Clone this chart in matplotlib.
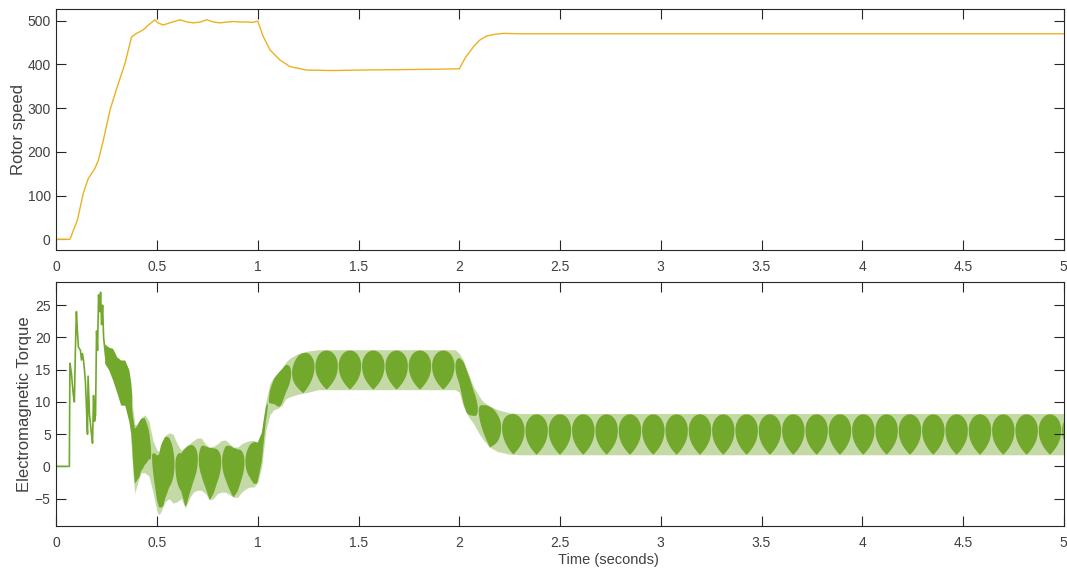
import numpy as np
import matplotlib
matplotlib.use("Agg")
import matplotlib.pyplot as plt

plt.rcParams['font.family'] = ['Liberation Sans', 'DejaVu Sans']

# ---------------- data ----------------
# Rotor speed
t_speed = [0, 0.068, 0.105, 0.134, 0.159, 0.192, 0.209, 0.234, 0.267, 0.30, 0.341,
           0.374, 0.399, 0.432, 0.457, 0.49, 0.505, 0.531, 0.57, 0.614, 0.65, 0.681,
           0.715, 0.747, 0.78, 0.813, 0.85, 0.88, 0.915, 0.946, 0.975, 1.0, 1.028,
           1.061, 1.11, 1.16, 1.243, 1.375, 1.5, 1.7, 1.9, 2.0, 2.03, 2.07, 2.1,
           2.136, 2.18, 2.22, 2.3, 3.0, 4.0, 5.0]
speed = [0, 0, 44, 105, 139, 162, 181, 227, 296, 345, 402,
         463, 471, 479, 490, 502, 495, 490, 496, 502, 497, 495,
         497, 502, 497, 495, 497, 498, 497, 497, 496, 499, 463,
         433, 410, 395, 387, 386, 387, 388, 389, 390, 415, 440, 455,
         465, 469, 471, 470, 470, 470, 470]

# Electromagnetic torque: early start-up trace
t_early = [0, 0.065, 0.066, 0.068, 0.075, 0.085, 0.09, 0.095, 0.10, 0.105, 0.11,
           0.12, 0.125, 0.13, 0.135, 0.14, 0.145, 0.15, 0.155, 0.158, 0.165, 0.17,
           0.175, 0.18, 0.185, 0.19, 0.195, 0.20, 0.205, 0.21, 0.215, 0.22, 0.225,
           0.23, 0.235, 0.24, 0.245]
T_early = [0, 0, 6, 16, 14.5, 11, 10, 18, 24, 21, 18.5,
           18, 16.5, 17.5, 16.5, 15, 13, 9, 5, 14, 8, 6.5,
           5, 3.6, 11, 7, 8, 21, 18, 26.6, 24, 27, 22,
           25, 20, 18.5, 17]

# Electromagnetic torque: ripple band envelopes
t_env = [0.24, 0.26, 0.28, 0.30, 0.32, 0.34, 0.36, 0.37, 0.38, 0.39, 0.40, 0.42,
         0.44, 0.46, 0.48, 0.50, 0.51, 0.52, 0.54, 0.56, 0.58, 0.60, 0.62, 0.64,
         0.66, 0.68, 0.70, 0.72, 0.74, 0.76, 0.78, 0.80, 0.82, 0.84, 0.86, 0.88,
         0.90, 0.92, 0.94, 0.96, 0.98, 1.00, 1.02, 1.04, 1.06, 1.08, 1.10, 1.12,
         1.14, 1.16, 1.20, 1.25, 1.30, 1.98, 2.00, 2.02, 2.05, 2.07, 2.10, 2.12,
         2.15, 2.19, 2.25, 2.30, 5.0]
T_up = [19, 18.5, 18.3, 17, 16.5, 16.5, 15, 13, 9, 6.5, 6.5, 7.5,
        8, 7, 4, 2.5, 2.3, 3.5, 4.8, 5.2, 5, 3.5, 2.5, 3,
        3.5, 4, 4.4, 4.4, 3.5, 3, 3.1, 3.5, 4, 4.1, 3.5, 3,
        3, 3.5, 3.8, 4, 4, 3.8, 5.5, 10, 12.8, 13.9, 14.5, 15.2,
        16.2, 16.8, 17.5, 17.9, 18.1, 18.1, 17.5, 16.5, 14, 12.4, 10.8, 10,
        9.4, 8.8, 8.3, 8.2, 8.2]
T_lo = [16, 15, 13.4, 11.5, 9.5, 9.5, 7, 5, -1, -4.2, -3, -1,
        -1, -1.5, -4, -7, -7.5, -7, -5.5, -5, -5.7, -5.5, -5, -6.5,
        -5, -4, -3.7, -3.7, -4.2, -5.2, -5, -4.2, -4, -4, -4.4, -4.8,
        -4.8, -4, -3.5, -3.2, -3.2, -2.5, 0, 5.6, 8, 8.8, 9, 9.5,
        10.5, 10.8, 11.2, 11.5, 11.9, 11.9, 11.5, 9.3, 7.5, 6.7, 5, 4.1,
        3, 2.3, 1.9, 1.8, 1.8]
dense_end = 0.375          # before this time the ripple band is solid
lobe_t0 = 1.226            # centre of one beat lobe (s)
lobe_period = 0.1158       # beat period (s)

x_ticks = [0, 0.5, 1, 1.5, 2, 2.5, 3, 3.5, 4, 4.5, 5]
x_ticklabels = ['0', '0.5', '1', '1.5', '2', '2.5', '3', '3.5', '4', '4.5', '5']
speed_ticks = [0, 100, 200, 300, 400, 500]
torque_ticks = [-5, 0, 5, 10, 15, 20, 25]

# ---------------- styling ----------------
c_speed = '#EDB120'
c_dark = '#72A82C'
c_light = '#C4DAA6'
c_axis = '#262626'
c_text = '#404040'

W, H = 1067, 573
fig = plt.figure(figsize=(W / 100, H / 100), dpi=100)

def px_axes(l, t, r, b):
    return fig.add_axes([l / W, 1 - b / H, (r - l) / W, (b - t) / H])

ax1 = px_axes(56.25, 9, 1063.75, 250)
ax2 = px_axes(56.25, 282, 1063.75, 525.7)

for ax in (ax1, ax2):
    ax.set_xlim(0, 5)
    ax.set_xticks(x_ticks)
    ax.set_xticklabels(x_ticklabels)
    ax.tick_params(direction='in', length=7.2, width=0.8, colors=c_axis,
                   labelcolor=c_text, labelsize=10, top=True, right=True)
    ax.tick_params(axis='x', pad=7.5)
    ax.tick_params(axis='y', pad=4)
    for s in ax.spines.values():
        s.set_color(c_axis)
        s.set_linewidth(0.8)

# top: rotor speed
ax1.plot(t_speed, speed, color=c_speed, lw=1.0)
ax1.set_ylim(-24.5, 526.7)
ax1.set_yticks(speed_ticks)

# bottom: torque
ax2.set_ylim(-9.2, 28.6)
ax2.set_yticks(torque_ticks)
ax2.plot(t_early, T_early, color=c_dark, lw=1.2)

tg = np.linspace(t_env[0], t_env[-1], 60000)
U = np.interp(tg, t_env, T_up)
L = np.interp(tg, t_env, T_lo)
dense = tg <= dense_end
ax2.fill_between(tg, L, U, where=dense, color=c_dark, lw=0)
ax2.fill_between(tg, L, U, where=~dense | (np.abs(tg - dense_end) < 1e-3),
                 color=c_light, lw=0)

# beat lobes (dark teardrops) inside the ripple band
k = np.round((tg - lobe_t0) / lobe_period)
r = np.abs(tg - (lobe_t0 + k * lobe_period)) / (0.96 * lobe_period / 2)
rr = np.clip(r, 0, 1)
head = 0.6
s_top = head + (0.98 - head) * np.sqrt(1 - rr ** 2)
s_bot = head - head * (1 - rr) ** 0.45
inside = (r <= 1) & (tg >= dense_end)
ax2.fill_between(tg, L + (U - L) * s_bot, L + (U - L) * s_top, where=inside,
                 color=c_dark, lw=0)

# labels
fig.text(18.3 / W, 1 - 129.5 / H, 'Rotor speed', rotation=90, ha='center',
         va='center', fontsize=12, color=c_text)
fig.text(25 / W, 1 - 404 / H, 'Electromagnetic Torque', rotation=90,
         ha='center', va='center', fontsize=12, color=c_text)
fig.text(608 / W, 1 - 560 / H, 'Time (seconds)', ha='center', va='center',
         fontsize=10.5, color=c_text)

fig.savefig('out.png', dpi=100)
